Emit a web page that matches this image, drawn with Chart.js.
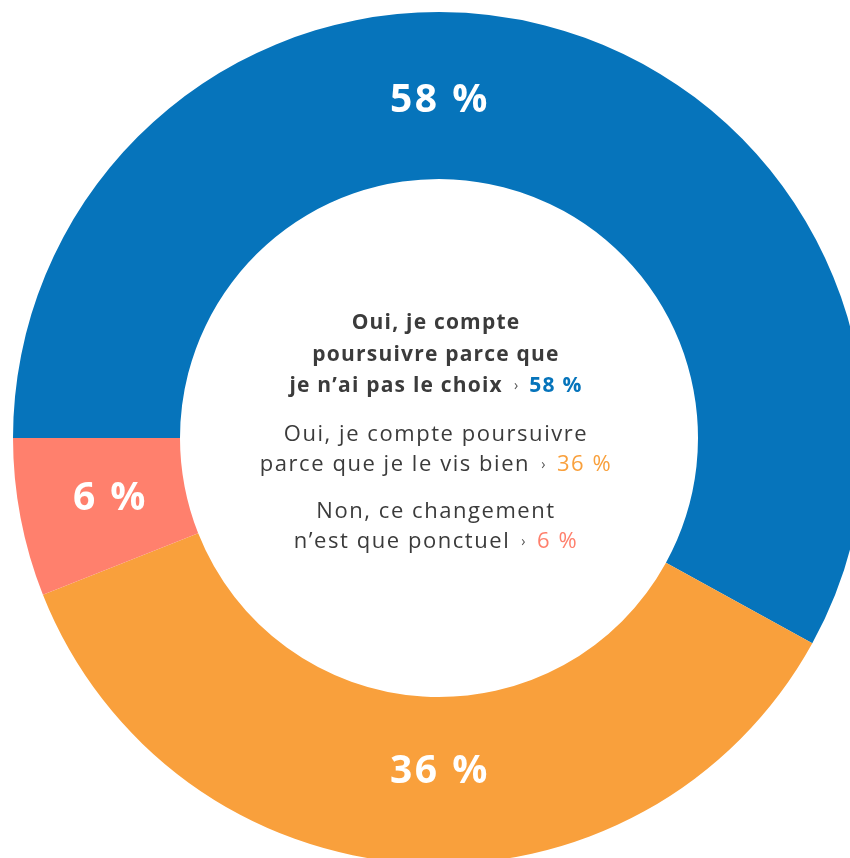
<!DOCTYPE html>
<html>
<head>
<meta charset="utf-8">
<script src="https://cdn.jsdelivr.net/npm/chart.js@4"></script>
<style>
  html, body { margin: 0; padding: 0; background: #fff; overflow: hidden; }
  body { width: 850px; height: 858px; position: relative; }
  #wrap { position: absolute; left: 13px; top: 12px; width: 852px; height: 852px; }
  #legend {
    position: absolute; left: 186px; top: 306px; width: 500px;
    text-align: center; font-family: "Open Sans", "Noto Sans", sans-serif;
    font-size: 22px; line-height: 30.5px; color: #3b3b3b; letter-spacing: 1.55px;
  }
  #legend .item { margin-bottom: 12px; }
  #legend .item.main { font-weight: bold; font-size: 21px; line-height: 31.5px; letter-spacing: 1.2px; margin-bottom: 14px; }
  #legend .sep { font-size: 14px; color: #555; margin: 0 10px 0 11px; position: relative; top: -2px; font-weight: normal; }
  #legend .val { font-weight: normal; }
  #legend .main .val { font-weight: bold; }
</style>
</head>
<body>
<div id="wrap"><canvas id="donut" width="852" height="852"></canvas></div>
<div id="legend"></div>
<script>
// chart data
const categories = [
  'Oui, je compte\npoursuivre parce que\nje n’ai pas le choix',
  'Oui, je compte poursuivre\nparce que je le vis bien',
  'Non, ce changement\nn’est que ponctuel'
];
const values = [58, 36, 6];
const colors = ['#0674bb', '#f9a03c', '#ff806d'];

// legend in the hole
var legend = document.getElementById('legend');
categories.forEach(function (cat, i) {
  var lines = cat.split('\n');
  var div = document.createElement('div');
  div.className = 'item' + (i === 0 ? ' main' : '');
  var html = lines.map(function (l, j) {
    if (j < lines.length - 1) return l + '<br>';
    return l + '<span class="sep">›</span><span class="val" style="color:' + colors[i] + '">' + values[i] + ' %</span>';
  }).join('');
  div.innerHTML = html;
  legend.appendChild(div);
});

// white value labels on the ring
const ringLabels = {
  id: 'ringLabels',
  afterDatasetsDraw(chart) {
    var ctx = chart.ctx;
    var meta = chart.getDatasetMeta(0);
    ctx.save();
    ctx.fillStyle = '#fff';
    ctx.font = 'bold 39px "Open Sans", "Noto Sans", sans-serif';
    ctx.letterSpacing = '2.5px';
    ctx.textAlign = 'center';
    ctx.textBaseline = 'middle';
    meta.data.forEach(function (arc, i) {
      var p = arc.getProps(['x', 'y', 'startAngle', 'endAngle', 'innerRadius', 'outerRadius']);
      var r = (p.innerRadius + p.outerRadius) / 2 - 7;
      var a = (p.startAngle + p.endAngle) / 2;
      // prefer straight up / down if the slice covers it
      [-Math.PI / 2, Math.PI / 2].forEach(function (t) {
        for (var k = -2; k <= 2; k++) {
          var tt = t + k * 2 * Math.PI;
          if (tt >= p.startAngle && tt <= p.endAngle) a = tt;
        }
      });
      var x = p.x + Math.cos(a) * r + 1;
      var y = p.y + Math.sin(a) * r - 2;
      ctx.fillText(values[i] + ' %', x, y);
    });
    ctx.restore();
  }
};

new Chart(document.getElementById('donut'), {
  type: 'doughnut',
  data: {
    labels: categories,
    datasets: [{
      data: values,
      backgroundColor: colors,
      borderWidth: 0,
      hoverOffset: 0
    }]
  },
  options: {
    responsive: false,
    animation: false,
    rotation: -90,
    cutout: '60.8%',
    layout: { padding: 0 },
    plugins: {
      legend: { display: false },
      tooltip: { enabled: false }
    }
  },
  plugins: [ringLabels]
});
</script>
</body>
</html>
